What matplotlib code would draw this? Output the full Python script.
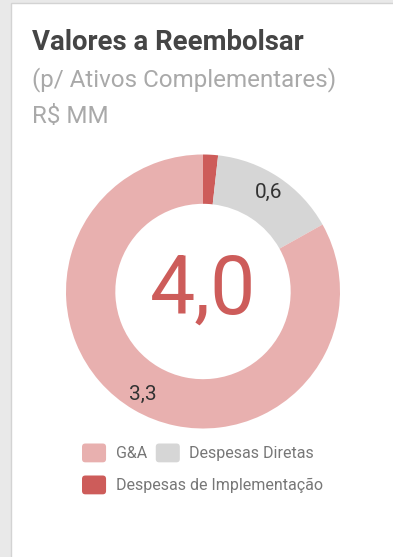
import numpy as np
import matplotlib.pyplot as plt
from matplotlib.patches import Rectangle, FancyBboxPatch, Patch
from matplotlib.legend_handler import HandlerPatch

plt.rcParams['font.family'] = ['Roboto', 'DejaVu Sans']

# Valores a reembolsar, R$ MM
categorias = ['Despesas de Implementação', 'Despesas Diretas', 'G&A']
valores = [0.07, 0.6, 3.3]
cores = ['#cd5c5a', '#d6d6d6', '#e8b0af']
rotulados = ['Despesas Diretas', 'G&A']

W, H = 393, 557


def fx(px):
    return px / W


def fy(py):
    return 1 - py / H


def br(v):
    return f'{v:.1f}'.replace('.', ',')


class RoundedHandle(HandlerPatch):
    def create_artists(self, legend, orig_handle, xdescent, ydescent,
                       width, height, fontsize, trans):
        r = 0.18 * height
        p = FancyBboxPatch((-xdescent + r, -ydescent + r), width - 2 * r, height - 2 * r,
                           boxstyle=f'round,pad={r},rounding_size={r}',
                           facecolor=orig_handle.get_facecolor(), edgecolor='none',
                           transform=trans)
        return [p]


fig = plt.figure(figsize=(W / 100, H / 100), dpi=100, facecolor='#e9e9e9')

# cartão branco
fig.add_artist(Rectangle((fx(10.5), -0.1), 1, fy(2.5) + 0.1, transform=fig.transFigure,
                         facecolor='white', edgecolor='#d3d3d3', linewidth=1, zorder=0))

fig.text(fx(32), fy(50), 'Valores a Reembolsar', fontsize=19.8, fontweight='bold',
         color='#454545', va='baseline')
fig.text(fx(32), fy(86), '(p/ Ativos Complementares)', fontsize=17.4,
         color='#a9a9a9', va='baseline')
fig.text(fx(32), fy(123), 'R$ MM', fontsize=17.4, color='#a9a9a9', va='baseline')

# donut
cx, cy, R = 203, 291.5, 137
ax = fig.add_axes([fx(cx - R), fy(cy + R), 2 * R / W, 2 * R / H])
wedges, _ = ax.pie(valores, colors=cores, startangle=90, counterclock=False,
                   wedgeprops=dict(width=0.36, linewidth=0))
ax.set_xlim(-1, 1)
ax.set_ylim(-1, 1)
ax.set_aspect('equal')
ax.axis('off')

for w, nome, v in zip(wedges, categorias, valores):
    if nome not in rotulados:
        continue
    ang = np.deg2rad((w.theta1 + w.theta2) / 2)
    ax.text(0.87 * np.cos(ang), 0.87 * np.sin(ang), br(v), ha='center', va='center',
            fontsize=15, color='#333333')

ax.text(0, 0, br(sum(valores)), ha='center', va='center', fontsize=58, color='#cd5c5a')

# legenda
h = {n: Patch(facecolor=c, label=n) for n, c in zip(categorias, cores)}
leg_kw = dict(frameon=False, fontsize=11.55, labelcolor='#777777', handlelength=1.5,
              handleheight=1.43, handletextpad=0.6, columnspacing=0.55, borderpad=0,
              borderaxespad=0, loc='upper left',
              handler_map={Patch: RoundedHandle()})
fig.legend(handles=[h['G&A'], h['Despesas Diretas']], ncol=2,
           bbox_to_anchor=(fx(82), fy(443.5)), **leg_kw)
fig.legend(handles=[h['Despesas de Implementação']], ncol=1,
           bbox_to_anchor=(fx(82), fy(475.5)), **leg_kw)

fig.savefig('out.png', dpi=100, facecolor=fig.get_facecolor())
